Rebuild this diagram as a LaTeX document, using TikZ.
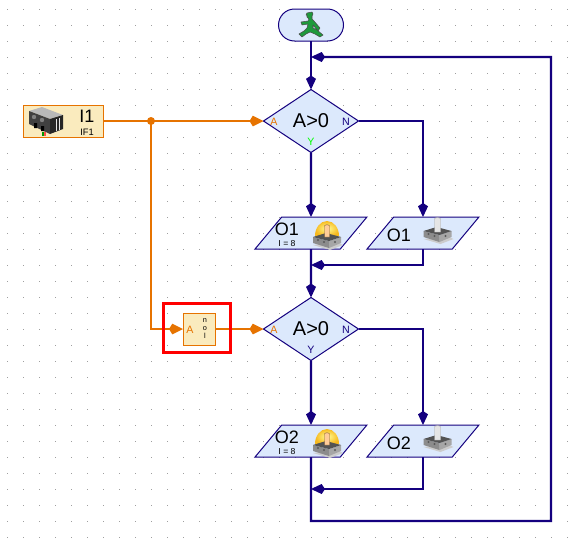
\documentclass[tikz,border=0pt]{standalone}
\usepackage{fontspec}
\setmainfont{Liberation Sans}
\usetikzlibrary{positioning, shapes.geometric, shapes.misc, arrows.meta, calc}

\definecolor{flowBlue}{HTML}{14007F}
\definecolor{flowOrange}{HTML}{E67300}
\definecolor{fillBlue}{HTML}{DCE9FC}
\definecolor{fillCream}{HTML}{FAEBBE}
\definecolor{manGreen}{HTML}{1E9A3C}
\definecolor{haloGold}{HTML}{F7B91E}

\begin{document}
\begin{tikzpicture}[
    % One unit is one pixel of the reference
    x=0.75pt, y=-0.75pt,
    font=\normalsize,
    % Connectors
    flow/.style={line width=1.7pt, draw=flowBlue},
    flowTip/.style={-{Kite[length=10.5pt, width=7.5pt, inset=2.5pt]}},
    signal/.style={line width=1.7pt, draw=flowOrange},
    signalTip/.style={-{Kite[length=10.5pt, width=8pt, inset=2.5pt]}},
    % Program elements
    startBlock/.style={rounded rectangle, draw=flowBlue, fill=fillBlue, line width=0.75pt,
        minimum width=48.75pt, minimum height=24pt, inner sep=0pt, outer sep=0pt},
    decision/.style={diamond, draw=flowBlue, fill=fillBlue, line width=0.75pt,
        minimum width=71.25pt, minimum height=47.25pt, inner sep=0pt, outer sep=0pt, font=\fontsize{15}{15}\selectfont},
    output/.style={trapezium, trapezium left angle=63.4, trapezium right angle=116.6,
        trapezium stretches=true, draw=flowBlue, fill=fillBlue, line width=0.75pt,
        minimum width=84pt, minimum height=24pt, inner sep=0pt, outer sep=0pt},
    sensorBox/.style={rectangle, draw=flowOrange, fill=fillCream, line width=0.75pt, inner sep=0pt, outer sep=0pt},
    % Texts
    bigText/.style={font=\fontsize{13.5}{13.5}\selectfont, inner sep=0pt},
    smallText/.style={font=\fontsize{6.5}{6.5}\selectfont, inner sep=0pt},
    portText/.style={font=\fontsize{8}{8}\selectfont, inner sep=0pt},
    % Small pictures inside the blocks
    lampBase/.pic={
        \fill[black!20] (-14,5) -- (3,10) -- (16,5) -- (10,2) -- cycle;
        \fill[gray!90] (-14,-3) -- (2,1) -- (2,8) -- (-14,3) -- cycle;
        \fill[gray!70] (2,1) -- (14,-3) -- (14,3) -- (2,8) -- cycle;
        \fill[gray!65!black] (-14,-3) -- (-1,-7) -- (14,-3) -- (2,1) -- cycle;
        \fill[black!65] (-9,0) circle (1.2) (-3,2) circle (1.2) (8,2) circle (1.2);
    },
    lampOn/.pic={
        \shade[inner color=yellow!40!white, outer color=haloGold] (-12,-4) arc (180:360:12 and 15) -- cycle;
        \pic at (0,0) {lampBase};
        \fill[orange!40!white, draw=brown!70!black, line width=0.3pt] (-2.5,-3) -- (-2.5,-14) arc (180:0:2.5 and -1.2) -- (2.5,-3) -- cycle;
    },
    lampOff/.pic={
        \pic at (0,0) {lampBase};
        \fill[gray!20, draw=gray!70, line width=0.3pt] (-3,-2) -- (-3,-15) arc (180:0:3 and -1.4) -- (3,-2) -- cycle;
    },
    walkMan/.pic={
        \fill[manGreen, draw=black!70, line width=0.4pt, line join=round]
            (-4,-12) -- (1,-13) -- (2,-11) -- (1,-9) -- (1,-6) -- (3,-4) -- (9,3) -- (7,6) -- (2,0)
            -- (2,3) -- (6,5) -- (12,10) -- (9,12) -- (4,9) -- (-1,7) -- (-5,9) -- (-9,12) -- (-12,9)
            -- (-7,6) -- (-4,3) -- (-3,-1) -- (-9,0) -- (-10,-3) -- (-3,-4) -- (-2,-6) -- (-4,-8)
            -- (-4,-10) -- (-5,-10) -- cycle;
    },
    ifModule/.pic={
        \fill[gray!55] (0,4) -- (13,0) -- (34,8) -- (21,12) -- cycle;
        \fill[black!75] (0,4) -- (21,12) -- (21,27) -- (0,17) -- cycle;
        \fill[black!85] (21,12) -- (34,8) -- (34,22) -- (21,27) -- cycle;
        \fill[gray] (5,10) circle (2.2) (13,13) circle (2.2);
        \fill[black] (5,16) rectangle (8,21) (12,19) rectangle (15,24);
        \draw[gray!20, line width=0.5pt] (27,12) -- (27,24) (30,11) -- (30,23);
        \fill[green!60!black] (13,25) rectangle (15,29);
        \fill[red!70] (15,25) rectangle (17,29);
    }
]

    % --- Dotted grid ---
    \useasboundingbox (0,0) rectangle (576,543);
    \fill[white] (0,0) rectangle (576,543);
    \foreach \dotX in {7,23,...,567}
        \foreach \dotY in {9,25,...,537}
            \fill[gray!75] (\dotX-0.5,\dotY-0.5) rectangle (\dotX+0.5,\dotY+0.5);

    % --- Blocks ---
    \node[startBlock] (start) at (311,25) {};
    \node[decision] (decTop) at (311,121) {A>0};
    \node[output] (lampOnTop) at (311,233) {\phantom{O}};
    \node[output] (lampOffTop) at (423,233) {\phantom{O}};
    \node[decision] (decLow) at (311,329) {A>0};
    \node[output] (lampOnLow) at (311,441) {\phantom{O}};
    \node[output] (lampOffLow) at (423,441) {\phantom{O}};
    \node[sensorBox, minimum width=60pt, minimum height=24pt] (inputBox) at (63,121) {};
    \node[sensorBox, minimum width=24pt, minimum height=24pt] (notBox) at (199,329) {};

    % --- Free ends of the connectors ---
    \coordinate (loopIn) at (311,57);
    \coordinate (joinTop) at (311,265);
    \coordinate (joinLow) at (311,489);
    \coordinate (loopLow) at (311,521);
    \coordinate (loopRight) at (551,521);
    \coordinate (loopUp) at (551,57);

    % --- Blue program flow ---
    \draw[flow, flowTip] (start.south) -- (decTop.north);
    \draw[flow, flowTip] (decTop.south) -- (lampOnTop.north);
    \draw[flow, flowTip] (decTop.east) -| (lampOffTop.north);
    \draw[flow, flowTip] (lampOnTop.south) -- (decLow.north);
    \draw[flow, flowTip] (lampOffTop.south) |- (joinTop);
    \draw[flow, flowTip] (decLow.south) -- (lampOnLow.north);
    \draw[flow, flowTip] (decLow.east) -| (lampOffLow.north);
    \draw[flow, flowTip] (lampOffLow.south) |- (joinLow);
    \draw[flow, flowTip] (lampOnLow.south) -- (loopLow) -- (loopRight) -- (loopUp) -- (loopIn);

    % --- Orange signal lines ---
    \node[circle, fill=flowOrange, minimum size=6pt, inner sep=0pt] (branch) at (151,121) {};
    \draw[signal, signalTip] (inputBox.east) -- (decTop.west);
    \draw[signal, signalTip] (branch.center) |- (notBox.west);
    \draw[signal, signalTip] (notBox.east) -- (decLow.west);

    % --- Texts ---
    \node[portText, text=flowOrange] (decTopA) at (274,121.5) {A};
    \node[portText, text=flowBlue] (decTopN) at (346,121.5) {N};
    \node[portText, text=green] (decTopY) at (311,142) {Y};
    \node[portText, text=flowOrange] (decLowA) at (274,329.5) {A};
    \node[portText, text=flowBlue] (decLowN) at (346,329.5) {N};
    \node[portText, text=flowBlue] (decLowY) at (311,350) {Y};
    \node[bigText] (textOnTop) at (287,229) {O1};
    \node[smallText] (stepOnTop) at (287,244) {I = 8};
    \node[bigText] (textOffTop) at (399,235) {O1};
    \node[bigText] (textOnLow) at (287,437) {O2};
    \node[smallText] (stepOnLow) at (287,452) {I = 8};
    \node[bigText] (textOffLow) at (399,443) {O2};
    \node[bigText] (textInput) at (87,116) {I1};
    \node[font=\fontsize{7}{7}\selectfont, inner sep=0pt] (textBus) at (87,132) {IF1};
    \node[portText, text=flowOrange] (notA) at (190,329.5) {A};
    \node[font=\fontsize{5.5}{6}\selectfont, align=center, inner sep=0pt] (notWord) at (205,329) {n\\o\\l};

    % --- Small pictures ---
    \pic at (311,25) {walkMan};
    \pic at (327,240) {lampOn};
    \pic at (437.5,234) {lampOff};
    \pic at (327,448) {lampOn};
    \pic at (437.5,442) {lampOff};
    \pic at (29,107) {ifModule};

    % --- Red marker round the NOT block ---
    \node[rectangle, draw=red, line width=2.25pt, minimum width=50pt, minimum height=37pt, inner sep=0pt] (marker) at (197,328) {};

\end{tikzpicture}
\end{document}
